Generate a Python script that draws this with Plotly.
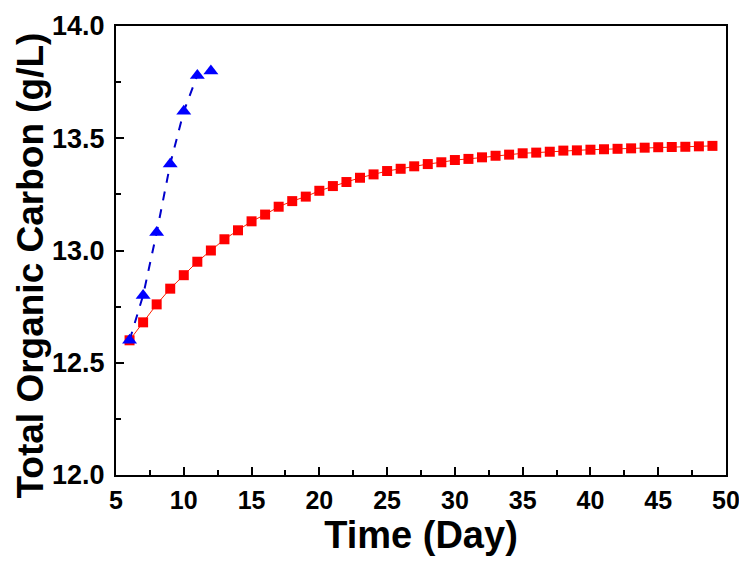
import plotly.graph_objects as go

red_days = list(range(6, 50))
red_toc = [12.60, 12.68, 12.76, 12.83, 12.89, 12.95, 13.00, 13.05, 13.09, 13.13,
           13.16, 13.195, 13.22, 13.24, 13.266, 13.287, 13.305, 13.324, 13.339, 13.354,
           13.364, 13.375, 13.385, 13.393, 13.403, 13.408, 13.415, 13.422, 13.427, 13.433,
           13.436, 13.440, 13.445, 13.446, 13.449, 13.451, 13.453, 13.455, 13.458, 13.460,
           13.461, 13.462, 13.464, 13.466]

blue_days = [6, 7, 8, 9, 10, 11, 12]
blue_toc = [12.60, 12.80, 13.08, 13.385, 13.62, 13.78, 13.80]

x_ticks = [5, 10, 15, 20, 25, 30, 35, 40, 45, 50]
y_ticks = [12.0, 12.5, 13.0, 13.5, 14.0]

FONT = "Arial, Liberation Sans, sans-serif"

fig = go.Figure()
fig.add_trace(go.Scatter(x=red_days, y=red_toc, mode="lines+markers",
                         line=dict(color="#FF2000", width=1),
                         marker=dict(symbol="square", size=10, color="#FF0000"),
                         showlegend=False))
fig.add_trace(go.Scatter(x=blue_days[:6], y=blue_toc[:6], mode="lines",
                         line=dict(color="#0000CC", width=2, dash="dash"),
                         showlegend=False))
fig.add_trace(go.Scatter(x=blue_days, y=blue_toc, mode="markers",
                         marker=dict(symbol="triangle-up", size=13, color="#0000FF"),
                         showlegend=False))

axis_common = dict(showline=True, linecolor="black", linewidth=2, mirror=True,
                   ticks="inside", ticklen=8, tickwidth=1.5, tickcolor="black",
                   showgrid=False, zeroline=False, automargin=False)

fig.update_xaxes(range=[5, 50], tickvals=x_ticks, ticktext=[str(v) for v in x_ticks],
                 tickfont=dict(family=FONT, size=25, color="black", weight="bold"),
                 ticklabelstandoff=2,
                 title=dict(text="Time (Day)", standoff=4,
                            font=dict(family=FONT, size=38, color="black", weight="bold")),
                 minor=dict(dtick=2.5, tick0=5, ticks="inside", ticklen=5, tickcolor="black", tickwidth=1.5),
                 **axis_common)
fig.update_yaxes(range=[12, 14], tickvals=y_ticks, ticktext=[f"{v:.1f}" for v in y_ticks],
                 tickfont=dict(family=FONT, size=27, color="black", weight="bold"),
                 ticklabelstandoff=4,
                 minor=dict(dtick=0.25, tick0=12, ticks="inside", ticklen=5, tickcolor="black", tickwidth=1.5),
                 **axis_common)

fig.add_annotation(text="Total Organic Carbon (g/L)", textangle=-90,
                   xref="paper", yref="paper", x=0, y=0.5,
                   xanchor="center", yanchor="middle", xshift=-86, yshift=-15,
                   showarrow=False,
                   font=dict(family=FONT, size=37, color="black", weight="bold"))

fig.update_layout(width=739, height=559, plot_bgcolor="white", paper_bgcolor="white",
                  margin=dict(l=108, r=21, t=18, b=92))

fig.write_html("out.html")
